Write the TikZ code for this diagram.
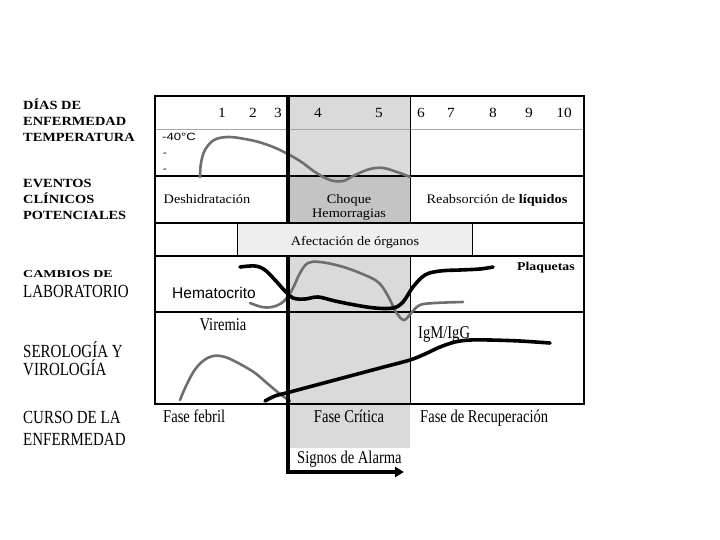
\documentclass[tikz,border=0pt]{standalone}
\usepackage{fontspec}
\setmainfont{Liberation Serif}
\newfontfamily\lblfont[FakeStretch=1.15]{Liberation Serif}
\newfontfamily\smallcapsfont[FakeStretch=1.33]{Liberation Serif}
\newfontfamily\tblfont[FakeStretch=1.1]{Liberation Serif}
\newfontfamily\condfont[FakeStretch=0.81]{Liberation Serif}
\newfontfamily\hsans{Liberation Sans}
\newfontfamily\widesans[FakeStretch=1.25]{Liberation Sans}
\usetikzlibrary{arrows.meta}
\definecolor{lightgray}{HTML}{DADADA}
\definecolor{midgray}{HTML}{C4C4C4}
\definecolor{palegray}{HTML}{EEEEEE}
\definecolor{curvegray}{HTML}{6E6E6E}
\tikzset{
  leftlbl/.style={font=\lblfont\bfseries\fontsize{12.5}{15}\selectfont, anchor=base west, inner sep=0pt},
  leftbig/.style={font=\condfont\fontsize{18.5}{20}\selectfont, anchor=base west, inner sep=0pt},
  tbltxt/.style={font=\tblfont\fontsize{13}{16}\selectfont, inner sep=0pt, anchor=base},
  phase/.style={font=\condfont\fontsize{18}{20}\selectfont, inner sep=0pt, anchor=base west},
  rowline/.style={line width=1.2pt, black},
  thinline/.style={line width=0.8pt, black},
  graycurve/.style={line width=2.6pt, curvegray, line cap=round},
  blackcurve/.style={line width=3.6pt, black, line cap=round},
  alarm/.style={line width=4pt, black}
}
\begin{document}
\begin{tikzpicture}[x=1pt,y=-1pt]
\useasboundingbox (0,0) rectangle (720,540);
\fill[white] (0,0) rectangle (720,540);

% gray regions
\fill[lightgray] (288,96) rectangle (410,448);
\fill[midgray] (288,176) rectangle (410,223);
\fill[palegray] (237,223) rectangle (472,256);

% table lines
\draw[line width=0.6pt, gray!70] (155,129) -- (584,129);
\draw[rowline] (155,176) -- (584,176);
\draw[rowline] (155,223) -- (584,223);
\draw[rowline] (155,256) -- (584,256);
\draw[rowline] (155,312) -- (584,312);
\draw[thinline] (410,96) -- (410,223);
\draw[thinline] (410,256) -- (410,404);
\draw[thinline] (237,223) -- (237,256);
\draw[thinline] (472,223) -- (472,256);
% outer border
\draw[line width=1.5pt] (155,96) rectangle (584,404);

% day numbers
\foreach \d/\x in {1/222,2/253,3/278,4/318,5/379,6/421,7/451,8/493,9/529,10/564}
  \node[tbltxt, font=\tblfont\fontsize{14}{16}\selectfont] (day\d) at (\x,118) {\d};

% temperature scale
\node[font=\widesans\fontsize{10.5}{12}\selectfont, anchor=base west, inner sep=0pt] (t40) at (162,141) {-40°C};
\node[font=\hsans\fontsize{11}{12}\selectfont, anchor=base west, inner sep=0pt] (td1) at (163,157) {-};
\node[font=\hsans\fontsize{11}{12}\selectfont, anchor=base west, inner sep=0pt] (td2) at (163,173) {-};

% temperature curve
\draw[graycurve] plot[smooth, tension=0.6] coordinates {(200,177) (201,163) (205,150) (214,140) (228,137) (245,139) (262,143) (280,150) (300,161) (315,172) (330,180) (343,181) (355,175) (370,169) (383,168) (397,172) (410,177)};

% events row
\node[tbltxt] (deshid) at (207,204) {Deshidratación};
\node[tbltxt] (choque) at (349,204) {Choque};
\node[tbltxt] (hemorr) at (349,218) {Hemorragias};
\node[tbltxt] (reabs) at (497,204) {Reabsorción de \textbf{líquidos}};
\node[tbltxt] (afect) at (355,245) {Afectación de órganos};

% laboratory curves
\draw[graycurve] plot[smooth, tension=0.6] coordinates {(250,303) (262,307) (272,307) (283,302) (292,290) (300,273) (308,263) (320,262) (340,266) (360,273) (378,282) (388,296) (396,312) (404,320) (412,312) (420,305) (435,303) (463,302)};
\draw[blackcurve] plot[smooth, tension=0.6] coordinates {(240,267) (255,266) (265,270) (275,280) (285,291) (293,298) (305,299) (318,297) (335,301) (355,305) (375,308) (393,308) (403,302) (413,287) (425,275) (440,271) (460,270) (480,269) (493,267)};
\node[font=\hsans\fontsize{15.5}{17}\selectfont, anchor=base west, inner sep=0pt] (hemat) at (172,298) {Hematocrito};
\node[font=\lblfont\bfseries\fontsize{12}{14}\selectfont, anchor=base west, inner sep=0pt] (plaq) at (517,270) {Plaquetas};

% serology curves
\draw[graycurve] plot[smooth, tension=0.6] coordinates {(180,400) (186,386) (194,371) (203,361) (213,356) (225,357) (240,364) (255,373) (268,384) (280,394) (290,401)};
\draw[blackcurve] plot[smooth, tension=0.5] coordinates {(265,401) (275,396) (290,392) (320,384) (350,376) (380,368) (410,360) (425,354) (440,347) (455,342) (470,340) (490,340) (520,341) (550,343)};
\node[phase, anchor=base] (viremia) at (223,330) {Viremia};
\node[phase] (igm) at (418,338) {IgM/IgG};

% alarm line
\coordinate (atop) at (288,96);
\coordinate (amid1) at (288,223);
\coordinate (amid2) at (288,256);
\coordinate (abot) at (288,472);
\coordinate (aend) at (404,472);
\draw[alarm] (atop) -- (amid1);
\draw[alarm, -{Triangle[length=9pt,width=10pt]}] (amid2) -- (abot) -- (aend);

% phases
\node[phase] (febril) at (163,422) {Fase febril};
\node[phase, anchor=base] (critica) at (349,422) {Fase Crítica};
\node[phase] (recup) at (420,422) {Fase de Recuperación};
\node[phase] (signos) at (297,463) {Signos de Alarma};

% left labels
\node[leftlbl] (l1a) at (23,110) {DÍAS DE};
\node[leftlbl] (l1b) at (23,126) {ENFERMEDAD};
\node[leftlbl] (l1c) at (23,142) {TEMPERATURA};
\node[leftlbl] (l2a) at (23,188) {EVENTOS};
\node[leftlbl] (l2b) at (23,204) {CLÍNICOS};
\node[leftlbl] (l2c) at (23,220) {POTENCIALES};
\node[leftlbl, font=\smallcapsfont\bfseries\fontsize{10.5}{12}\selectfont] (l3a) at (23,277) {CAMBIOS DE};
\node[leftbig] (l3b) at (23,297) {LABORATORIO};
\node[leftbig] (l4a) at (23,357) {SEROLOGÍA Y};
\node[leftbig] (l4b) at (23,375) {VIROLOGÍA};
\node[leftbig] (l5a) at (23,423) {CURSO DE LA};
\node[leftbig] (l5b) at (23,445) {ENFERMEDAD};
\end{tikzpicture}
\end{document}
